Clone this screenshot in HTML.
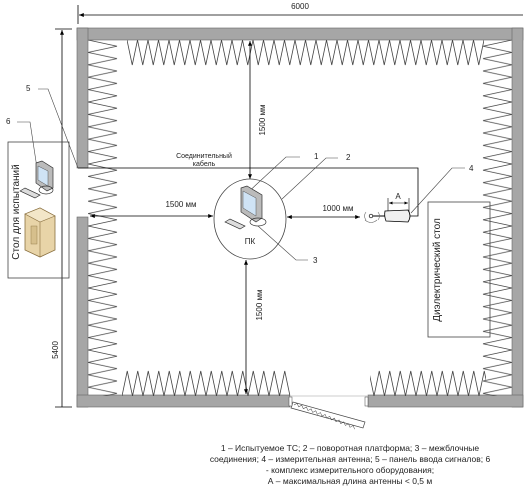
<!DOCTYPE html>
<html><head><meta charset="utf-8"><style>
html,body{margin:0;padding:0;background:#fff;}
svg{display:block;font-family:"Liberation Sans",sans-serif;}
</style></head><body>
<svg width="530" height="492" viewBox="0 0 530 492" xmlns="http://www.w3.org/2000/svg">
<defs>
<pattern id="pt" x="127" y="40" width="10.5" height="26" patternUnits="userSpaceOnUse"><path d="M0,0 L5.25,25 L10.5,0" fill="none" stroke="#444" stroke-width="0.8"/></pattern>
<pattern id="pb" x="122" y="370" width="10.5" height="26" patternUnits="userSpaceOnUse"><path d="M0,26 L5.25,1 L10.5,26" fill="none" stroke="#444" stroke-width="0.8"/></pattern>
<pattern id="pl" x="88" y="40" width="30" height="12.4" patternUnits="userSpaceOnUse"><path d="M0,0 L29,6.2 L0,12.4" fill="none" stroke="#444" stroke-width="0.8"/></pattern>
<pattern id="pr" x="482" y="40" width="30" height="12.4" patternUnits="userSpaceOnUse"><path d="M30,0 L1,6.2 L30,12.4" fill="none" stroke="#444" stroke-width="0.8"/></pattern>
<marker id="ar" markerWidth="6" markerHeight="6" refX="6" refY="3" orient="auto"><path d="M0,0.5 L6,3 L0,5.5z" fill="#000"/></marker>
<marker id="as" markerWidth="6" markerHeight="6" refX="0" refY="3" orient="auto"><path d="M6,0.5 L0,3 L6,5.5z" fill="#000"/></marker>
</defs>
<!-- walls -->
<g fill="#a6a6a6" stroke="#666" stroke-width="0.6">
<rect x="77" y="28" width="446" height="12"/>
<rect x="77" y="28" width="11" height="140"/>
<rect x="77" y="217" width="11" height="190"/>
<rect x="512" y="28" width="11" height="379"/>
<rect x="77" y="395" width="213" height="12"/>
<rect x="368" y="395" width="155" height="12"/>
</g>
<!-- wedges -->
<rect x="127" y="40" width="357" height="26" fill="url(#pt)"/>
<rect x="122" y="370" width="168" height="26" fill="url(#pb)"/>
<rect x="370" y="370" width="116" height="26" fill="url(#pb)"/>
<rect x="88" y="40" width="30" height="356" fill="url(#pl)"/>
<rect x="482" y="40" width="30" height="356" fill="url(#pr)"/>
<!-- door -->
<line x1="290" y1="396" x2="368" y2="396" stroke="#ccc"/>
<path d="M291,408 L363,428 L365,422 L293,402z" fill="#fff" stroke="#444" stroke-width="0.7"/>
<path d="M294,405 l2.5,-2.5 l2.5,3 l2.5,-2.5 l2.5,3 l2.5,-2.5 l2.5,3 l2.5,-2.5 l2.5,3 l2.5,-2.5 l2.5,3 l2.5,-2.5 l2.5,3 l2.5,-2.5 l2.5,3 l2.5,-2.5 l2.5,3 l2.5,-2.5 l2.5,3 l2.5,-2.5 l2.5,3 l2.5,-2.5 l2.5,3 l2.5,-2.5 l2.5,3 l2.5,-2.5 l2.5,3" fill="none" stroke="#444" stroke-width="0.5" transform="rotate(16 294 405)"/>
<rect x="289" y="397" width="3" height="9" fill="#fff" stroke="#444" stroke-width="0.5"/>
<rect x="365" y="397" width="3" height="9" fill="#fff" stroke="#444" stroke-width="0.5"/>
<!-- dimension lines -->
<g stroke="#000" stroke-width="0.8" fill="none">
<line x1="78" y1="5" x2="78" y2="24"/>
<line x1="79" y1="15" x2="523" y2="15" marker-start="url(#as)"/>
<line x1="55" y1="29" x2="72" y2="29"/>
<line x1="55" y1="407" x2="72" y2="407"/>
<line x1="62" y1="30" x2="62" y2="407" marker-start="url(#as)"/>
<polyline points="78,168 418,168 418,216 410,216"/>
<line x1="250" y1="41" x2="250" y2="179" marker-start="url(#as)" marker-end="url(#ar)"/>
<line x1="246" y1="260" x2="246" y2="394" marker-start="url(#as)" marker-end="url(#ar)"/>
<line x1="90" y1="216" x2="213" y2="216" marker-start="url(#as)" marker-end="url(#ar)"/>
<line x1="287" y1="217" x2="360" y2="217" marker-start="url(#as)" marker-end="url(#ar)"/>
<ellipse cx="250" cy="219" rx="36" ry="40" stroke="#444"/>
<rect x="8" y="142" width="61" height="136" stroke="#444"/>
<rect x="428" y="202" width="62" height="135" stroke="#444"/>
<polyline points="300,157 286,157 244,196" stroke="#444" stroke-width="0.6"/>
<polyline points="338,158 326,158 282,199" stroke="#444" stroke-width="0.6"/>
<polyline points="308,260 296,260 258,226" stroke="#444" stroke-width="0.6"/>
<polyline points="465,168 452,168 411,213" stroke="#444" stroke-width="0.6"/>
<polyline points="38,89 48,89 78,168" stroke="#444" stroke-width="0.6"/>
<polyline points="17,122 30,122 37,168" stroke="#444" stroke-width="0.6"/>
<line x1="388" y1="198" x2="388" y2="213" stroke-width="0.6"/>
<line x1="409" y1="198" x2="409" y2="213" stroke-width="0.6"/>
<line x1="389" y1="203" x2="408" y2="203" stroke-width="0.6" marker-start="url(#as)" marker-end="url(#ar)"/>
</g>
<!-- antenna -->
<path d="M385,211 L408,210 Q412,216 408,222 L386,221 Q384,216 385,211z" fill="#f0f0f0" stroke="#000" stroke-width="0.8"/>
<line x1="372" y1="216" x2="385" y2="216" stroke="#000"/>
<circle cx="371" cy="216" r="1.8" fill="#fff" stroke="#000" stroke-width="0.7"/>
<path d="M366,212 q-3,4 0,8 M378,212 q3,4 0,8 M365,220 q6,5 12,0" fill="none" stroke="#666" stroke-width="0.6"/>
<!-- PC at center -->
<g>
<path d="M241,188 L247,186 L262,195 L262,218 L256,222 L241,212z" fill="#bbb" stroke="#333" stroke-width="0.7"/>
<path d="M243,191 L256,198 L256,216 L243,208z" fill="#cfe3f5" stroke="#555" stroke-width="0.5"/>
<ellipse cx="258" cy="222" rx="8" ry="4" fill="none" stroke="#333" stroke-width="0.7"/>
<path d="M225,222 L230,219 L245,226 L240,229z" fill="#ddd" stroke="#333" stroke-width="0.7"/>
</g>
<!-- PC at test table -->
<g>
<path d="M36,163 L42,161 L53,168 L53,188 L47,191 L36,183z" fill="#bbb" stroke="#333" stroke-width="0.7"/>
<path d="M38,166 L48,171 L48,186 L38,180z" fill="#cfe3f5" stroke="#555" stroke-width="0.5"/>
<ellipse cx="46" cy="190" rx="7" ry="4" fill="none" stroke="#333" stroke-width="0.7"/>
<path d="M20,191 L25,188 L40,195 L35,198z" fill="#ddd" stroke="#333" stroke-width="0.7"/>
<path d="M25,214 L40,208 L55,216 L55,250 L40,257 L25,250z" fill="#e8d4a8" stroke="#8a7040" stroke-width="0.8"/>
<path d="M25,214 L40,208 L55,216 L40,222z" fill="#f3e6c8" stroke="#8a7040" stroke-width="0.6"/>
<line x1="40" y1="222" x2="40" y2="257" stroke="#8a7040" stroke-width="0.6"/>
<rect x="31" y="226" width="6" height="18" fill="#d6bf8c" stroke="#8a7040" stroke-width="0.4"/>
</g>
<!-- text -->
<g font-size="8" fill="#222">
<text x="300" y="9" text-anchor="middle">6000</text>
<text x="0" y="0" transform="translate(58,350) rotate(-90)" text-anchor="middle">5400</text>
<text x="204" y="158" text-anchor="middle" font-size="7">Соединительный</text>
<text x="204" y="166" text-anchor="middle" font-size="7">кабель</text>
<text x="181" y="207" text-anchor="middle">1500 мм</text>
<text x="338" y="211" text-anchor="middle">1000 мм</text>
<text x="250" y="244" text-anchor="middle">ПК</text>
<text x="0" y="0" transform="translate(265,120) rotate(-90)" text-anchor="middle">1500 мм</text>
<text x="0" y="0" transform="translate(262,305) rotate(-90)" text-anchor="middle">1500 мм</text>
<text x="398" y="199" text-anchor="middle">A</text>
<text x="314" y="159">1</text>
<text x="346" y="160">2</text>
<text x="313" y="263">3</text>
<text x="469" y="171">4</text>
<text x="26" y="91">5</text>
<text x="6" y="124">6</text>
<text x="0" y="0" transform="translate(19,212) rotate(-90)" text-anchor="middle" font-size="10">Стол для испытаний</text>
<text x="0" y="0" transform="translate(440,270) rotate(-90)" text-anchor="middle" font-size="10">Диэлектрический стол</text>
</g>
<g font-size="8.5" fill="#222" text-anchor="middle">
<text x="350" y="451">1 – Испытуемое ТС; 2 – поворотная платформа; 3 – межблочные</text>
<text x="350" y="462">соединения; 4 – измерительная антенна; 5 – панель ввода сигналов; 6</text>
<text x="350" y="473">- комплекс измерительного оборудования;</text>
<text x="350" y="484">А – максимальная длина антенны &lt; 0,5 м</text>
</g>
</svg>
</body></html>
